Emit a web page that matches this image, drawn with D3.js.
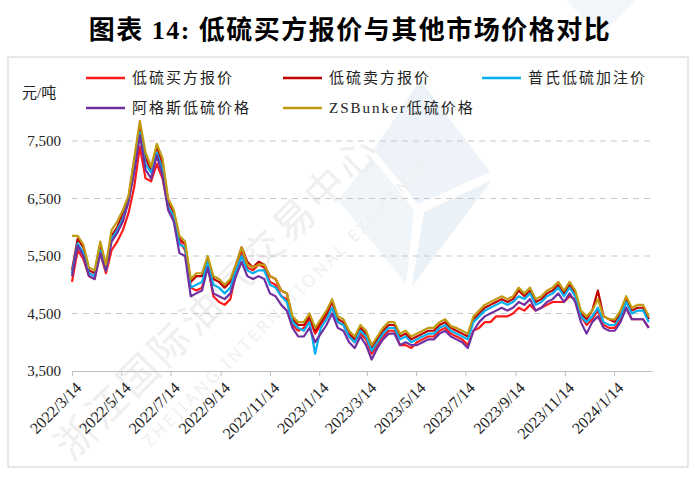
<!DOCTYPE html>
<html><head><meta charset="utf-8">
<script src="https://cdn.jsdelivr.net/npm/d3@7"></script>
<style>
html,body{margin:0;padding:0;background:#fff;}
svg{display:block;}
</style></head>
<body>
<svg id="chart" width="700" height="478"></svg>
<script>
// ---------- data ----------
const dates = ("2022-03-14,2022-03-21,2022-03-28,2022-04-04,2022-04-11,2022-04-18,2022-04-25,2022-05-02,2022-05-09,2022-05-16," +
"2022-05-23,2022-05-30,2022-06-06,2022-06-13,2022-06-20,2022-06-27,2022-07-04,2022-07-11,2022-07-18,2022-07-25," +
"2022-08-01,2022-08-08,2022-08-15,2022-08-22,2022-08-29,2022-09-05,2022-09-12,2022-09-19,2022-09-26,2022-10-03," +
"2022-10-10,2022-10-17,2022-10-24,2022-10-31,2022-11-07,2022-11-14,2022-11-21,2022-11-28,2022-12-05,2022-12-12," +
"2022-12-19,2022-12-26,2023-01-02,2023-01-09,2023-01-16,2023-01-23,2023-01-30,2023-02-06,2023-02-13,2023-02-20," +
"2023-02-27,2023-03-06,2023-03-13,2023-03-20,2023-03-27,2023-04-03,2023-04-10,2023-04-17,2023-04-24,2023-05-01," +
"2023-05-08,2023-05-15,2023-05-22,2023-05-29,2023-06-05,2023-06-12,2023-06-19,2023-06-26,2023-07-03,2023-07-10," +
"2023-07-17,2023-07-24,2023-07-31,2023-08-07,2023-08-14,2023-08-21,2023-08-28,2023-09-04,2023-09-11,2023-09-18," +
"2023-09-25,2023-10-02,2023-10-09,2023-10-16,2023-10-23,2023-10-30,2023-11-06,2023-11-13,2023-11-20,2023-11-27," +
"2023-12-04,2023-12-11,2023-12-18,2023-12-25,2024-01-01,2024-01-08,2024-01-15,2024-01-22,2024-01-29,2024-02-05," +
"2024-02-12,2024-02-19,2024-02-26").split(",");

// 低硫买方报价
const buyerQuote = [5050,5600,5450,5150,5100,5550,5200,5600,5750,5950,
6250,6700,7400,6850,6800,7100,6850,6350,6150,5750,
5600,4950,4900,4950,5350,4800,4700,4650,4750,5200,
5600,5300,5250,5350,5300,5050,5000,4800,4750,4300,
4200,4250,4400,4150,4300,4450,4600,4350,4300,4100,
4000,4150,4050,3800,3950,4100,4200,4200,3950,3950,
3900,4000,4050,4100,4100,4200,4250,4150,4100,4050,
3950,4200,4250,4350,4350,4450,4450,4450,4500,4600,
4550,4650,4550,4600,4650,4700,4700,4700,4800,4750,
4450,4300,4400,4550,4300,4250,4250,4400,4600,4400,
4400,4400,4250];
// 低硫卖方报价
const sellerQuote = [5250,5800,5650,5250,5200,5700,5300,5850,6000,6250,
6500,7150,7750,7200,7000,7400,7100,6450,6250,5800,
5700,5050,5150,5150,5450,5100,5050,4950,5050,5350,
5650,5400,5300,5400,5350,5150,5100,4900,4850,4400,
4300,4300,4450,4200,4350,4500,4700,4400,4350,4150,
4050,4250,4150,3900,4050,4200,4300,4300,4100,4150,
4050,4100,4150,4200,4200,4300,4350,4250,4200,4150,
4100,4400,4500,4600,4650,4700,4750,4700,4750,4900,
4800,4900,4700,4750,4850,4900,5000,4850,5000,4850,
4500,4400,4550,4900,4450,4400,4350,4500,4750,4550,
4600,4600,4400];
// 普氏低硫加注价
const plattsPrice = [5200,5720,5550,5200,5150,5600,5250,5800,5950,6150,
6450,7000,7650,7100,6950,7300,7000,6350,6200,5700,
5650,4950,5000,5050,5400,5000,4950,4850,4950,5250,
5500,5250,5200,5250,5250,5000,4950,4800,4700,4350,
4250,4200,4350,3800,4250,4400,4600,4350,4300,4100,
4000,4200,4100,3850,4000,4150,4250,4250,4050,4100,
4000,4050,4100,4150,4150,4250,4300,4200,4150,4100,
4050,4350,4450,4550,4600,4650,4700,4650,4700,4800,
4750,4850,4650,4700,4800,4850,4950,4800,4950,4800,
4450,4350,4450,4600,4350,4300,4300,4450,4700,4500,
4550,4550,4350];
// 阿格斯低硫价格
const argusPrice = [5150,5680,5500,5150,5100,5550,5250,5750,5900,6100,
6450,6950,7600,7000,6850,7250,6900,6300,6100,5550,
5500,4800,4850,4900,5300,4850,4800,4750,4850,5150,
5400,5150,5100,5150,5100,4850,4800,4650,4550,4250,
4100,4100,4250,4000,4150,4300,4500,4250,4200,4000,
3900,4100,3950,3700,3900,4050,4150,4150,3950,4000,
3950,3950,4000,4050,4050,4150,4200,4100,4050,4000,
3900,4200,4350,4450,4500,4550,4600,4550,4600,4700,
4650,4750,4550,4600,4700,4750,4850,4700,4850,4700,
4350,4150,4350,4450,4250,4200,4200,4350,4600,4400,
4400,4400,4250];
// ZSBunker低硫价格
const zsbunkerPrice = [5850,5850,5700,5300,5250,5750,5350,5950,6100,6300,
6550,7200,7850,7300,7050,7450,7200,6500,6300,5850,
5750,5100,5200,5200,5500,5150,5100,5000,5100,5350,
5650,5350,5300,5350,5350,5150,5100,4900,4850,4450,
4350,4350,4500,4250,4400,4550,4750,4450,4400,4200,
4100,4300,4200,3950,4100,4250,4350,4350,4150,4200,
4100,4150,4200,4250,4250,4350,4400,4280,4250,4200,
4150,4450,4550,4650,4700,4750,4800,4750,4800,4950,
4850,4950,4750,4800,4900,4950,5050,4900,5050,4900,
4550,4450,4550,4750,4450,4400,4400,4550,4800,4600,
4650,4650,4450];

const seriesNames = ["低硫买方报价","低硫卖方报价","普氏低硫加注价","阿格斯低硫价格","ZSBunker低硫价格"];
const seriesValues = [buyerQuote, sellerQuote, plattsPrice, argusPrice, zsbunkerPrice];
const seriesColors = ["#ff1a1a","#c00000","#00b0f0","#7030a0","#c09a10"];
const yTicks = [3500,4500,5500,6500,7500];
const xTickDates = ["2022-03-14","2022-05-14","2022-07-14","2022-09-14","2022-11-14","2023-01-14",
"2023-03-14","2023-05-14","2023-07-14","2023-09-14","2023-11-14","2024-01-14"];
const xDomain = ["2022-03-14","2024-03-01"];
const titleText = "图表 14:  低硫买方报价与其他市场价格对比";
const unitText = "元/吨";

// ---------- drawing ----------
const svg = d3.select("#chart");
const parse = d3.timeParse("%Y-%m-%d");
const serifFont = "'Liberation Serif','Times New Roman','Noto Sans CJK SC',serif";

// watermark (faint)
const wm = svg.append("g").attr("class","watermark");
wm.append("polygon").attr("points","420,80 490,172 418,204 374,150").attr("fill","#edf3f8");
wm.append("polygon").attr("points","338,200 372,158 414,210 406,284").attr("fill","#f0f5f9");
wm.append("polygon").attr("points","424,212 492,180 412,286").attr("fill","#eaf1f7");
wm.append("polygon").attr("points","566,0 636,0 600,36").attr("fill","#f2f6fa");
wm.append("text").attr("transform","translate(72,462) rotate(-45)")
  .attr("font-family","'Noto Sans CJK SC',sans-serif").attr("font-size",40).attr("fill","#efefef")
  .attr("letter-spacing",4).text("浙江国际油气交易中心");
wm.append("text").attr("transform","translate(150,448) rotate(-45)")
  .attr("font-family","'Noto Sans',sans-serif").attr("font-size",17).attr("fill","#f0f0f0")
  .attr("letter-spacing",3).text("ZHEJIANG INTERNATIONAL EXCHANGE");

// title
svg.append("text").attr("x",350).attr("y",39).attr("text-anchor","middle")
  .attr("font-family",serifFont).attr("font-weight","bold").attr("font-size",26)
  .attr("letter-spacing",1.5).attr("fill","#000").text(titleText);

// frame
svg.append("rect").attr("x",8).attr("y",57).attr("width",680).attr("height",410)
  .attr("fill","none").attr("stroke","#d9d9d9").attr("stroke-width",1.2);

const x = d3.scaleTime().domain(xDomain.map(parse)).range([72,652]);
const y = d3.scaleLinear().domain([3500,7500]).range([371,141]);

// gridlines
svg.append("g").selectAll("line").data(yTicks.slice(1)).join("line")
  .attr("x1",72).attr("x2",652).attr("y1",d=>y(d)).attr("y2",d=>y(d))
  .attr("stroke","#c8c8c8").attr("stroke-width",1).attr("stroke-dasharray","6,5");

// y labels
svg.append("g").selectAll("text").data(yTicks).join("text")
  .attr("x",61).attr("y",d=>y(d)).attr("dy","0.35em").attr("text-anchor","end")
  .attr("font-family",serifFont).attr("font-size",15).attr("fill","#222")
  .text(d=>d3.format(",")(d));

svg.append("text").attr("x",22).attr("y",98)
  .attr("font-family",serifFont).attr("font-size",15).attr("fill","#222").text(unitText);

// x axis
const xAxis = d3.axisBottom(x).tickValues(xTickDates.map(parse)).tickSize(5).tickSizeOuter(0)
  .tickFormat(d3.timeFormat("%Y/%-m/%-d"));
const gx = svg.append("g").attr("transform","translate(0,371)").call(xAxis);
gx.select(".domain").attr("stroke","#bfbfbf").attr("stroke-width",1.2);
gx.selectAll(".tick line").attr("stroke","#bfbfbf");
gx.selectAll(".tick text")
  .attr("font-family",serifFont).attr("font-size",16).attr("fill","#222")
  .attr("text-anchor","end").attr("y",0).attr("dy","0.35em")
  .attr("transform","translate(6,14) rotate(-45)");

// lines
const line = d3.line().x((d,i)=>x(parse(dates[i]))).y(d=>y(d));
const lg = svg.append("g");
seriesValues.forEach((vals,k)=>{
  lg.append("path").datum(vals).attr("d",line).attr("fill","none")
    .attr("stroke",seriesColors[k]).attr("stroke-width",2.2).attr("stroke-linejoin","round");
});

// legend
const legendPos = [[86,78],[283,78],[482,78],[86,108],[283,108]];
const leg = svg.append("g");
seriesNames.forEach((n,k)=>{
  const [lx,ly] = legendPos[k];
  leg.append("line").attr("x1",lx).attr("x2",lx+39).attr("y1",ly).attr("y2",ly)
    .attr("stroke",seriesColors[k]).attr("stroke-width",2.5);
  leg.append("text").attr("x",lx+46).attr("y",ly).attr("dy","0.35em")
    .attr("font-family",serifFont).attr("font-size",15).attr("letter-spacing",2)
    .attr("fill","#222").text(n);
});
</script>
</body></html>
